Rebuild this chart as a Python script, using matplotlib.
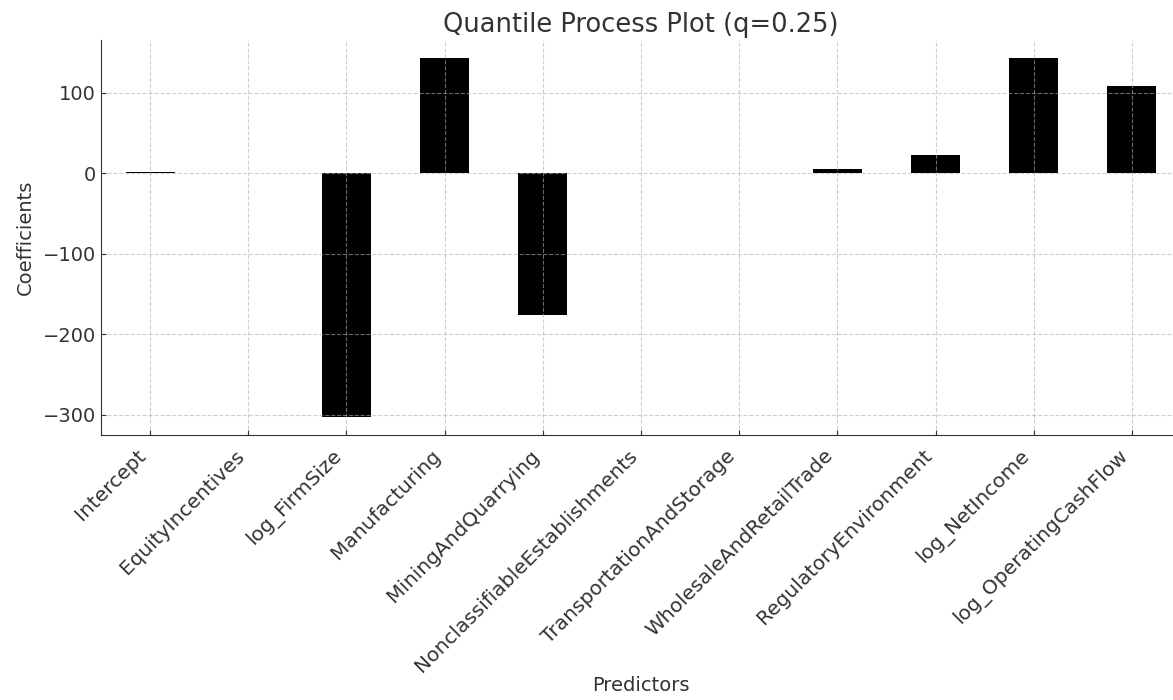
import matplotlib.pyplot as plt

predictors = ['Intercept', 'EquityIncentives', 'log_FirmSize', 'Manufacturing',
              'MiningAndQuarrying', 'NonclassifiableEstablishments',
              'TransportationAndStorage', 'WholesaleAndRetailTrade',
              'RegulatoryEnvironment', 'log_NetIncome', 'log_OperatingCashFlow']
coefs = [2.0, 0.0, -303.0, 143.5, -176.5, 0.0, 0.6, 5.0, 23.0, 143.0, 109.0]

txt = '#333333'
fig = plt.figure(figsize=(11.73, 7), dpi=100)
# the original image is cropped on the right, so the axes run past the edge
ax = fig.add_axes([0.0861, 0.3786, 0.9207, 0.5643])

x = range(len(predictors))
ax.bar(x, coefs, width=0.5, color='black')
ax.set_axisbelow(False)
ax.grid(True, linestyle='--', color='#b0b0b0', alpha=0.6, linewidth=0.8)

ax.set_xticks(list(x))
ax.set_xticklabels(predictors, rotation=45, ha='right')
ax.set_xlim(-0.5, len(predictors) - 0.5)
ax.tick_params(direction='in', labelsize=14, colors=txt, labelcolor=txt)
ax.tick_params(axis='x', labelsize=14.5, pad=8)
for s in ['top', 'right']:
    ax.spines[s].set_visible(False)
for s in ['left', 'bottom']:
    ax.spines[s].set_color(txt)

ax.set_title('Quantile Process Plot (q=0.25)', fontsize=18.5, color=txt)
ax.set_xlabel('Predictors', fontsize=14, color=txt, labelpad=0)
ax.set_ylabel('Coefficients', fontsize=14, color=txt, labelpad=6)

fig.savefig('out.png')
